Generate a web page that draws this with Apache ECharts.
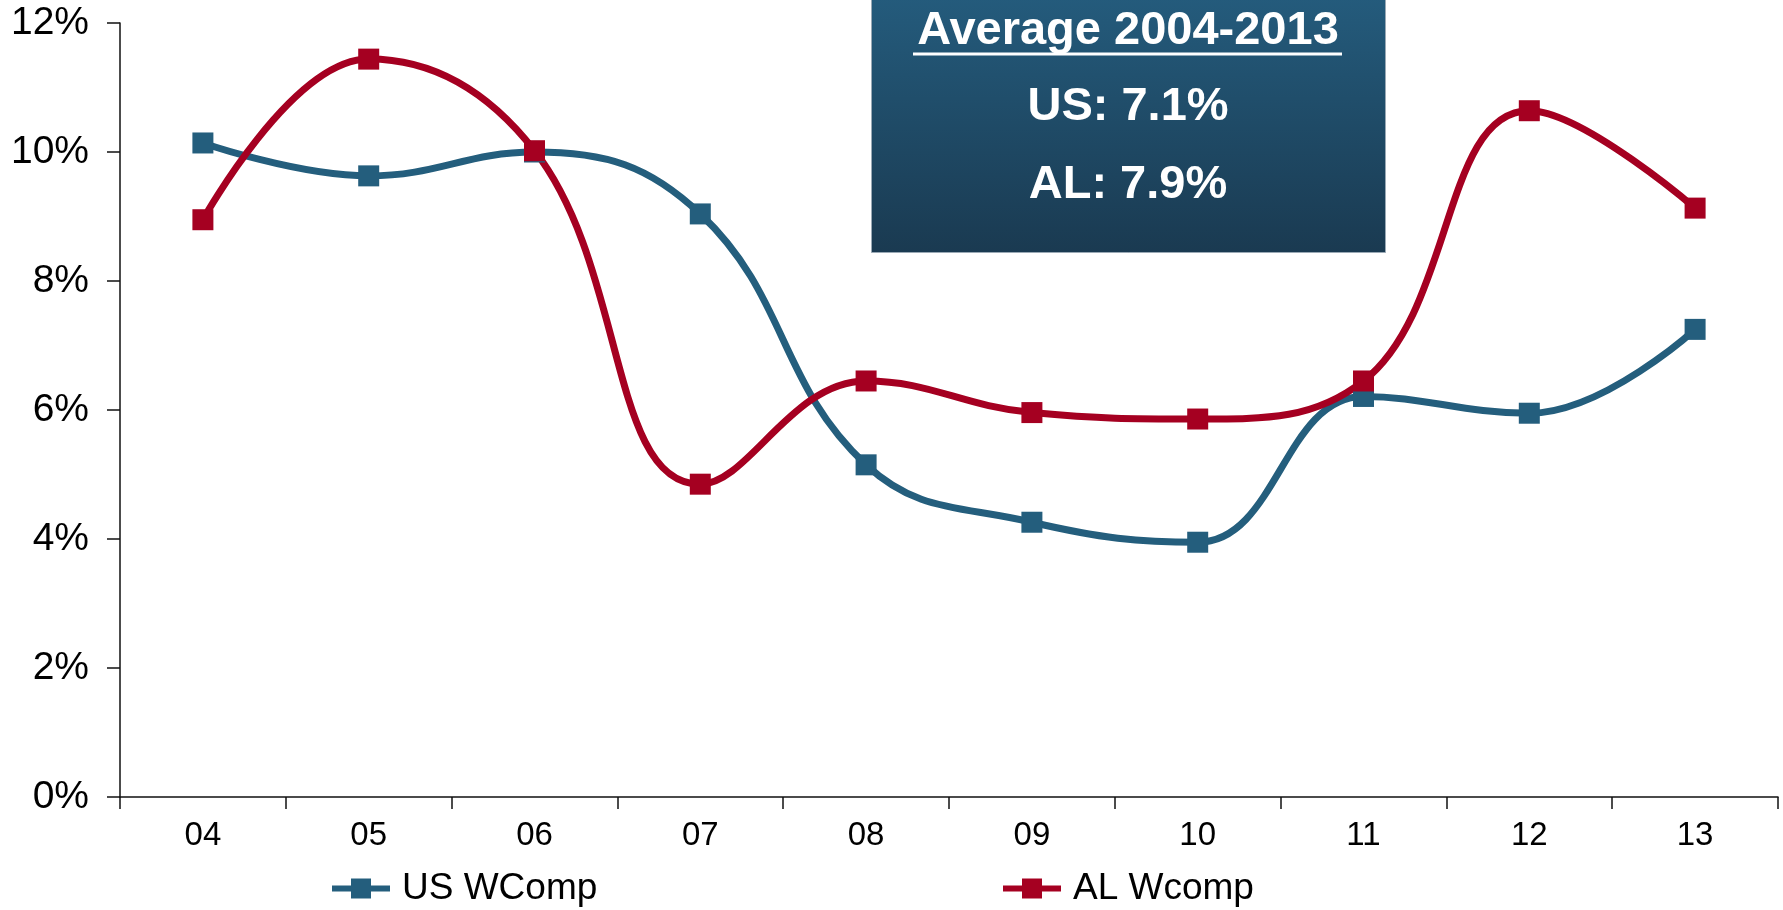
<!DOCTYPE html>
<html>
<head>
<meta charset="utf-8">
<script src="https://cdn.jsdelivr.net/npm/echarts@6/dist/echarts.min.js"></script>
<style>
  html, body { margin: 0; padding: 0; background: #fff; }
  #chart { width: 1783px; height: 910px; }
</style>
</head>
<body>
<div id="chart"></div>
<script>
// yearly workers' comp values (%)
var years = ['04', '05', '06', '07', '08', '09', '10', '11', '12', '13']
var usWcomp = [10.14, 9.63, 10.0, 9.04, 5.15, 4.26, 3.95, 6.21, 5.95, 7.25]
var alWcomp = [8.95, 11.44, 10.02, 4.85, 6.45, 5.96, 5.86, 6.45, 10.64, 9.13]
var yTicks = [0, 2, 4, 6, 8, 10, 12]
var boxLines = ['Average 2004-2013', 'US: 7.1%', 'AL: 7.9%']

var blue = '#245E7D'
var red = '#A50021'
var font = 'Liberation Sans, Arial, sans-serif'

var myChart = echarts.init(document.getElementById('chart'))

var legendBase = {
  top: 870,
  padding: 0,
  itemWidth: 58,
  itemHeight: 25,
  lineStyle: { width: 6 },
  textStyle: { fontSize: 37, color: '#000', fontFamily: font, padding: [0, 0, 0, 7] }
}

var option = {
  animation: false,
  textStyle: { fontFamily: font },
  grid: { left: 120, right: 5, top: 23, bottom: 113 },
  legend: [
    Object.assign({ data: ['US WComp'], left: 329 }, legendBase),
    Object.assign({ data: ['AL Wcomp'], left: 1000 }, legendBase)
  ],
  xAxis: {
    type: 'category',
    data: years,
    boundaryGap: true,
    axisLine: { lineStyle: { color: '#111', width: 1.5 } },
    axisTick: { show: true, inside: false, length: 12, lineStyle: { color: '#111', width: 1.5 } },
    axisLabel: { fontSize: 33, color: '#000', margin: 22, fontFamily: font },
    splitLine: { show: false }
  },
  yAxis: {
    type: 'value',
    min: yTicks[0],
    max: yTicks[yTicks.length - 1],
    interval: 2,
    axisLine: { show: true, lineStyle: { color: '#111', width: 1.5 } },
    axisTick: { show: true, inside: false, length: 13, lineStyle: { color: '#111', width: 1.5 } },
    axisLabel: { fontSize: 39, color: '#000', margin: 31, fontFamily: font, formatter: '{value}%' },
    splitLine: { show: false }
  },
  series: [
    {
      name: 'US WComp',
      type: 'line',
      data: usWcomp,
      smooth: 0.42,
      symbol: 'rect',
      symbolSize: 21,
      showAllSymbol: true,
      color: blue,
      lineStyle: { width: 7, color: blue },
      itemStyle: { color: blue }
    },
    {
      name: 'AL Wcomp',
      type: 'line',
      data: alWcomp,
      smooth: 0.42,
      symbol: 'rect',
      symbolSize: 21,
      showAllSymbol: true,
      color: red,
      lineStyle: { width: 7, color: red },
      itemStyle: { color: red }
    }
  ],
  graphic: [
    {
      type: 'rect',
      left: 871,
      top: -2,
      z: 10,
      shape: { width: 514, height: 254 },
      style: {
        fill: new echarts.graphic.LinearGradient(0, 0, 0, 1, [
          { offset: 0, color: '#245B7C' },
          { offset: 1, color: '#1A3A51' }
        ]),
        stroke: '#9aa9b5',
        lineWidth: 1
      }
    },
    {
      type: 'text',
      x: 1128,
      y: 31,
      z: 11,
      style: { text: boxLines[0], fill: '#fff', font: 'bold 47px ' + font, align: 'center', verticalAlign: 'middle' }
    },
    {
      type: 'line',
      z: 11,
      shape: { x1: 913, y1: 54, x2: 1342, y2: 54 },
      style: { stroke: '#fff', lineWidth: 3 }
    },
    {
      type: 'text',
      x: 1128,
      y: 107,
      z: 11,
      style: { text: boxLines[1], fill: '#fff', font: 'bold 47px ' + font, align: 'center', verticalAlign: 'middle' }
    },
    {
      type: 'text',
      x: 1128,
      y: 185,
      z: 11,
      style: { text: boxLines[2], fill: '#fff', font: 'bold 47px ' + font, align: 'center', verticalAlign: 'middle' }
    }
  ]
}

myChart.setOption(option)
</script>
</body>
</html>
